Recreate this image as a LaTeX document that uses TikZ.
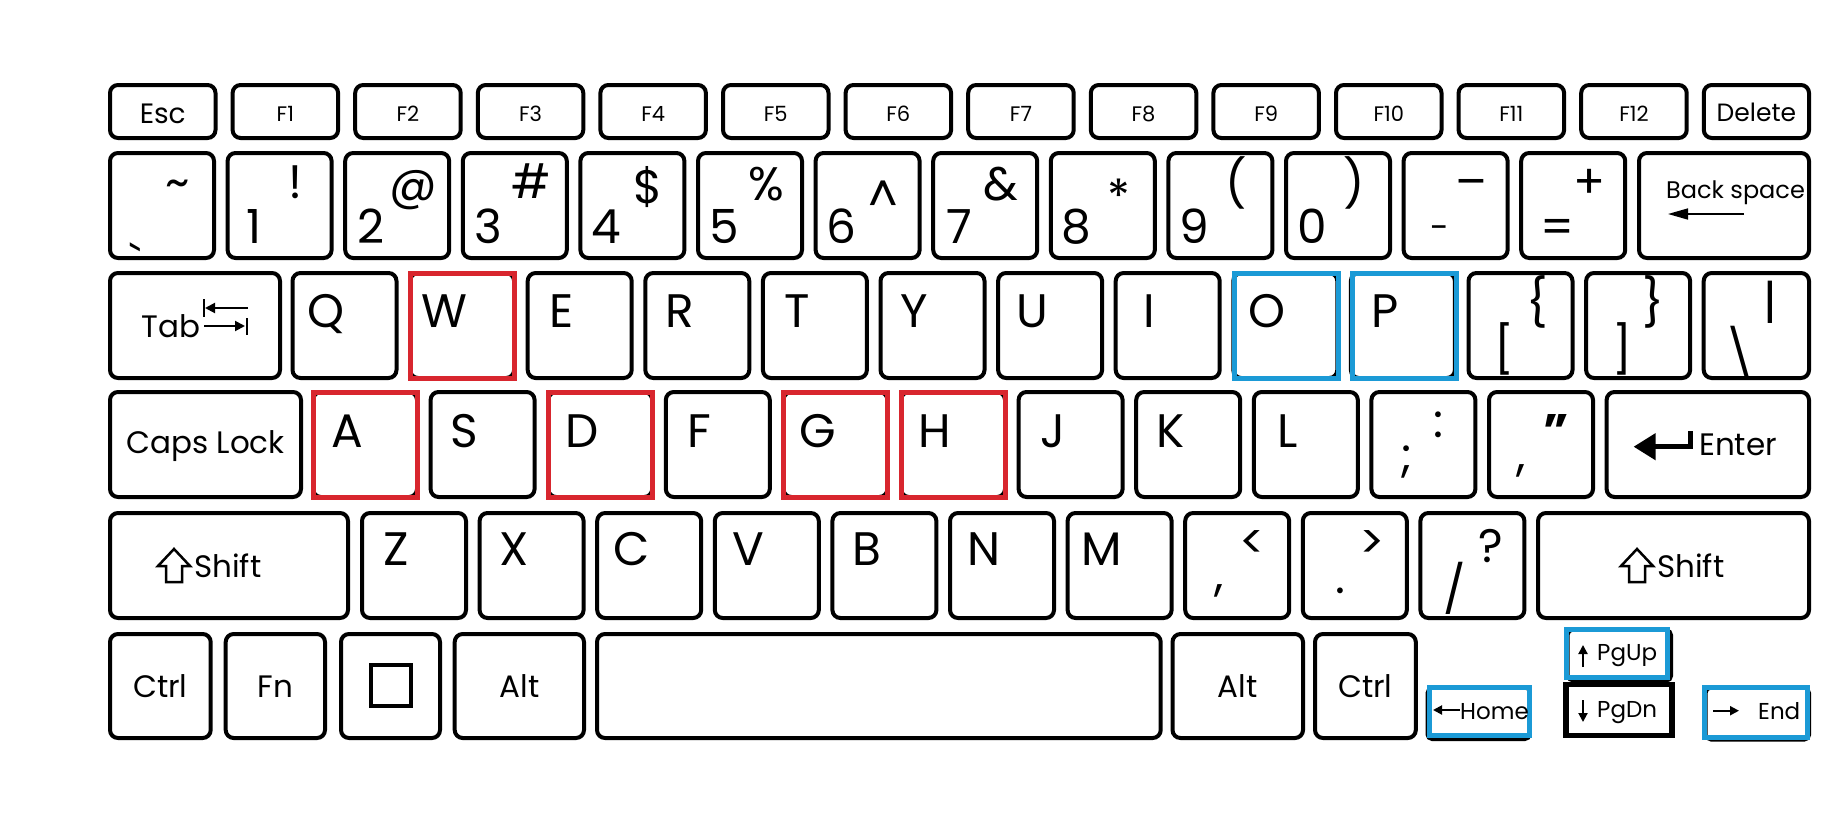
\documentclass[tikz,border=0pt]{standalone}
\usepackage{fontspec}
\setmainfont{Poppins}
\usetikzlibrary{arrows.meta}
\definecolor{kred}{HTML}{D8262E}
\definecolor{kblue}{HTML}{1B9AD6}
\tikzset{
 keyst/.style={draw=black, line width=4pt, rounded corners=8pt},
 redbox/.style={draw=kred, line width=5pt},
 bluebox/.style={draw=kblue, line width=5pt},
 blackbox/.style={draw=black, line width=5.5pt},
 shadowkey/.style={draw=black, line width=3pt, rounded corners=5pt},
 big/.style={font=\fontsize{47}{50}\selectfont, inner sep=0pt, anchor=base},
 mid/.style={font=\fontsize{31}{34}\selectfont, inner sep=0pt, anchor=base},
 midw/.style={font=\fontsize{31}{34}\selectfont, inner sep=0pt, anchor=base west},
 fnt/.style={font=\fontsize{21}{24}\selectfont, inner sep=0pt, anchor=base},
 sml/.style={font=\fontsize{23}{26}\selectfont, inner sep=0pt, anchor=base west},
 arr/.style={line width=2pt, -{Triangle[length=9pt,width=9pt]}},
 tabarr/.style={line width=2pt, -{Triangle[length=10pt,width=10pt]}},
}
% number key: index, bottom x offset, bottom char, bottom baseline, top char, top baseline
\newcommand\numkey[6]{%
 \pgfmathsetmacro\kL{110+#1*117.6}
 \draw[keyst] (\kL,153) rectangle ({\kL+104},258);
 \node[big] at ({\kL+#2},#4) {#3};
 \node[big] at ({\kL+68},#6) {#5};}
% letter key: left, top, letter, baseline offset
\newcommand\lkey[4]{%
 \draw[keyst] (#1,#2) rectangle ({#1+104},{#2+105});
 \node[big] at ({#1+34},{#2+#4}) {#3};}
\newcommand\shiftarrow[1]{%
 \draw[line width=2.5pt, line join=miter] ({#1+16},549) -- ({#1+32},566) -- ({#1+24},566) -- ({#1+24},582) -- ({#1+8},582) -- ({#1+8},566) -- (#1,566) -- cycle;}

\begin{document}
\begin{tikzpicture}[x=1pt,y=-1pt]
\fill[white] (0,0) rectangle (1842,822);
\useasboundingbox (0,0) rectangle (1842,822);

% ---------- function row ----------
\draw[keyst] (110,85) rectangle (215.5,138);
\node[font=\fontsize{28}{30}\selectfont, inner sep=0pt, anchor=base] (esc) at (162.75,123) {Esc};
\foreach \t [count=\i from 1] in {F1,F2,F3,F4,F5,F6,F7,F8,F9,F10,F11,F12}{
 \pgfmathsetmacro\kL{110+\i*122.6}
 \draw[keyst] (\kL,85) rectangle ({\kL+105.5},138);
 \node[fnt] at ({\kL+52.75},121) {\t};
}
\draw[keyst] (1703.8,85) rectangle (1809,138);
\node[font=\fontsize{25}{28}\selectfont, inner sep=0pt, anchor=base] (del) at (1756.4,121) {Delete};

% ---------- number row ----------
\numkey{0}{26}{\textasciigrave}{279}{\textasciitilde}{198}
\numkey{1}{26}{1}{243}{!}{198}
\numkey{2}{26}{2}{243}{@}{200}
\numkey{3}{26}{3}{243}{\#}{198}
\numkey{4}{26}{4}{243}{\$}{203}
\numkey{5}{26}{5}{243}{\%}{200}
\numkey{6}{26}{6}{243}{\textasciicircum}{213}
\numkey{7}{26}{7}{243}{\&}{200}
\numkey{8}{26}{8}{243}{*}{213}
\numkey{9}{26}{9}{243}{(}{200}
\numkey{10}{26}{0}{243}{)}{200}
\numkey{11}{36}{\fontsize{34}{36}\selectfont -}{239}{–}{198}
\numkey{12}{36}{=}{243}{+}{198}
\draw[keyst] (1639,153) rectangle (1809,258);
\node[font=\fontsize{24}{26}\selectfont, inner sep=0pt, anchor=base west] (bksp) at (1666,198) {Back space};
\draw[line width=1.6pt, -{Triangle[length=20pt,width=11pt]}] (1744,214) -- (1668,214);

% ---------- QWERTY row ----------
\draw[keyst] (110,273) rectangle (280,378);
\node[midw] (tab) at (141.5,337) {Tab};
\draw[line width=2pt] (203.6,299) -- (203.6,317);
\draw[tabarr] (248,308) -- (205,308);
\draw[tabarr] (204,326) -- (245,326);
\draw[line width=2pt] (246.5,318) -- (246.5,335);
\foreach \c [count=\i from 0] in {Q,W,E,R,T,Y,U,I,O,P}{
 \pgfmathsetmacro\kL{292.5+\i*117.6}
 \lkey{\kL}{273}{\c}{54}
}
% [ key
\draw[keyst] (1468.5,273) rectangle (1572.5,378);
\node[big] at (1504.5,366) {[};
\node[big] at (1537,319) {\{};
% ] key
\draw[keyst] (1586.1,273) rectangle (1690.1,378);
\node[big] at (1622,366) {]};
\node[big] at (1653,319) {\}};
% \ key
\draw[keyst] (1703.7,273) rectangle (1809,378);
\node[big] at (1740,370) {\textbackslash};
\node[big] at (1770,318) {|};
% highlights
\draw[redbox] (410.1,273) rectangle (514.1,378);
\draw[bluebox] (1234.5,273) rectangle (1338.5,378);
\draw[bluebox] (1352.1,273) rectangle (1456.1,378);

% ---------- home row ----------
\draw[keyst] (110,392) rectangle (301,497);
\node[mid] (caps) at (205.5,453) {Caps Lock};
\foreach \c [count=\i from 0] in {A,S,D,F,G,H,J,K,L}{
 \pgfmathsetmacro\kL{313+\i*117.6}
 \lkey{\kL}{392}{\c}{55}
}
\draw[keyst] (1371.4,392) rectangle (1475.4,497);
\node[big] at (1438,437) {:};
\node[big] at (1407,471) {;};
\draw[keyst] (1489,392) rectangle (1593,497);
\node[big, font=\fontsize{47}{50}\selectfont\bfseries] at (1556,447) {”};
\node[big] at (1521,470) {,};
\draw[keyst] (1606.6,392) rectangle (1809,497);
\draw[line width=4.5pt, -{Triangle[length=22pt,width=26pt]}] (1690.6,431) -- (1690.6,446.7) -- (1633.6,446.7);
\node[midw] (enter) at (1699,455) {Enter};
\draw[redbox] (313,392) rectangle (417,497);
\draw[redbox] (548.2,392) rectangle (652.2,497);
\draw[redbox] (783.4,392) rectangle (887.4,497);
\draw[redbox] (901,392) rectangle (1005,497);

% ---------- shift row ----------
\draw[keyst] (110,513) rectangle (348,618);
\shiftarrow{158}
\node[midw] (lshift) at (194,577) {Shift};
\foreach \c [count=\i from 0] in {Z,X,C,V,B,N,M}{
 \pgfmathsetmacro\kL{362+\i*117.6}
 \lkey{\kL}{513}{\c}{52}
}
\draw[keyst] (1185.2,513) rectangle (1289.2,618);
\node[big] at (1253,558) {<};
\node[big] at (1219,590) {,};
\draw[keyst] (1302.8,513) rectangle (1406.8,618);
\node[big] at (1372,558) {>};
\node[big] at (1340,593) {.};
\draw[keyst] (1420.4,513) rectangle (1524.4,618);
\node[big] at (1491,562) {?};
\node[big] at (1455,606) {/};
\draw[keyst] (1538,513) rectangle (1809,618);
\shiftarrow{1621}
\node[midw] (rshift) at (1657,577) {Shift};

% ---------- bottom row ----------
\draw[keyst] (110,634) rectangle (210.7,738);
\node[mid] (lctrl) at (160.4,697) {Ctrl};
\draw[keyst] (225.7,634) rectangle (325,738);
\node[mid] (fn) at (275.4,697) {Fn};
\draw[keyst] (341,634) rectangle (440,738);
\draw[line width=3.5pt] (371,665) rectangle (411,706);
\draw[keyst] (454.7,634) rectangle (584,738);
\node[mid] (lalt) at (519.4,697) {Alt};
\draw[keyst] (597,634) rectangle (1160.7,738);
\draw[keyst] (1172.5,634) rectangle (1303,738);
\node[mid] (ralt) at (1237.8,697) {Alt};
\draw[keyst] (1315,634) rectangle (1415.8,738);
\node[mid] (rctrl) at (1365.4,697) {Ctrl};

% navigation cluster
\draw[shadowkey] (1427,688) rectangle (1530,739.5);
\draw[bluebox] (1429.2,687.5) rectangle (1529.2,735.8);
\draw[shadowkey] (1568,630) rectangle (1671.5,681);
\draw[bluebox] (1566.5,629.2) rectangle (1667.5,677.5);
\draw[blackbox] (1565.8,684.5) rectangle (1672.2,735.5);
\draw[shadowkey] (1706,688) rectangle (1809.5,740);
\draw[bluebox] (1704.2,687.5) rectangle (1807.5,737.5);

\draw[arr] (1460,710) -- (1433,710);
\node[sml] (home) at (1460,719) {Home};
\draw[arr] (1583,667) -- (1583,645);
\node[sml] (pgup) at (1597,660) {PgUp};
\draw[arr] (1583,700) -- (1583,722);
\node[sml] (pgdn) at (1597,717) {PgDn};
\draw[arr] (1713,710.7) -- (1739,710.7);
\node[sml] (end) at (1758,719) {End};
\end{tikzpicture}
\end{document}
